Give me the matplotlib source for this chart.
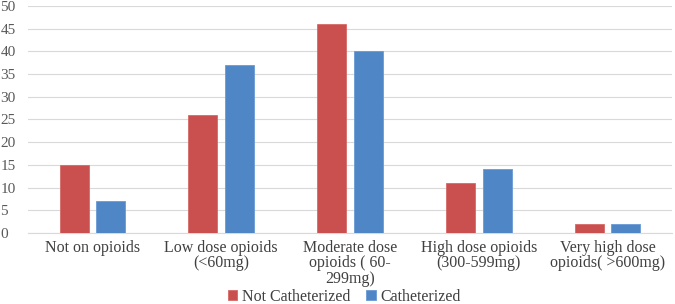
import matplotlib
matplotlib.use("Agg")
import matplotlib.pyplot as plt
import numpy as np

categories = ["Not on opioids", "Low dose opioids\n(<60mg)", "Moderate dose\nopioids ( 60-\n299mg)",
              "High dose opioids\n(300-599mg)", "Very high dose\nopioids( >600mg)"]
not_cath = [15, 26, 46, 11, 2]
cath = [7, 37, 40, 14, 2]

plt.rcParams['font.family'] = ['Liberation Serif', 'DejaVu Serif']

fig = plt.figure(figsize=(6.75, 3.04), dpi=100)
ax = fig.add_axes([0.041, 0.234, 0.955, 0.746])

x = np.arange(len(categories))
w = 0.225
gap = 0.028
ax.bar(x - w / 2 - gap, not_cath, w, color="#C9504F", edgecolor="#D86A68", linewidth=0.6,
       label="Not Catheterized", zorder=3)
ax.bar(x + w / 2 + gap, cath, w, color="#4F86C6", edgecolor="#6A9AD4", linewidth=0.6,
       label="Catheterized", zorder=3)

ax.set_xlim(-0.5, len(categories) - 0.5)
ax.set_ylim(0, 50)
ax.set_yticks(range(0, 51, 5))
ax.yaxis.grid(True, color="#D9D9D9", linewidth=0.8, zorder=0)
ax.set_axisbelow(True)
for s in ["top", "right", "left"]:
    ax.spines[s].set_visible(False)
ax.spines["bottom"].set_color("#D9D9D9")
ax.tick_params(axis="y", length=0, labelsize=11, labelcolor="#595959", pad=2)
ax.tick_params(axis="x", length=0, labelsize=11.5, labelcolor="#404040", pad=5)
ax.set_xticks(x)
ax.set_xticklabels(categories, linespacing=0.95)
for lbl in ax.get_yticklabels():
    lbl.set_horizontalalignment("left")
    lbl.set_x(-0.038)

fig.legend(loc="center", bbox_to_anchor=(0.51, 7 / 304), ncol=2, frameon=False,
           fontsize=11.5, handlelength=0.6, handleheight=0.6, handletextpad=0.3,
           columnspacing=1.0, labelcolor="#404040", borderpad=0)

fig.savefig("out.png", dpi=100)
